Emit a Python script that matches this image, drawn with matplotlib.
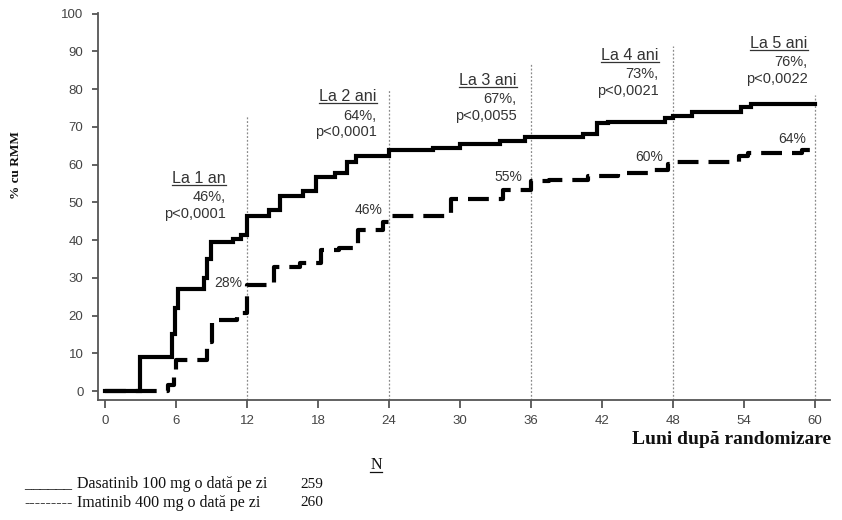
import matplotlib
matplotlib.use('Agg')
import matplotlib.pyplot as plt
from matplotlib.lines import Line2D

# ---------------- data ----------------
months_dasa = [0, 2.9, 5.6, 5.9, 6.1, 8.3, 8.6, 8.9, 10.8, 11.5, 12, 13.8, 14.8, 16.7,
               17.8, 19.4, 20.4, 21.2, 24, 27.7, 30, 33.4, 35.5, 40.4, 41.6, 42.5,
               47.3, 48, 49.6, 53.8, 54.6, 60]
pct_dasa = [0, 9, 15, 22, 27, 30, 35, 39.4, 40.2, 41.3, 46.5, 48, 51.8, 53,
            56.6, 57.7, 60.8, 62.2, 63.8, 64.5, 65.6, 66.2, 67.2, 68, 71, 71.4,
            72.5, 73, 74, 75.4, 76.2, 76.2]

months_ima = [0, 5.3, 5.8, 6.0, 8.6, 9.0, 11.1, 12, 14.3, 16.5, 18.2, 19.8, 21.4,
              23.5, 24, 27.5, 29.2, 33.6, 36, 37.5, 40.8, 43.4, 45.9, 47.6, 48,
              50, 53.6, 54.4, 58.9, 59.8]
pct_ima = [0, 1.5, 5, 8.2, 13, 18.8, 20.6, 28, 32.8, 33.9, 37.3, 38, 42.6,
           44.7, 46.3, 46.5, 50.8, 53.2, 55.8, 56, 56.9, 57.7, 58.5, 60.3, 60.6,
           60.8, 62.2, 63.2, 63.8, 63.8]

x_ticks = [0, 6, 12, 18, 24, 30, 36, 42, 48, 54, 60]
y_ticks = [0, 10, 20, 30, 40, 50, 60, 70, 80, 90, 100]

year_months = [12, 24, 36, 48, 60]
year_labels = ['La 1 an', 'La 2 ani', 'La 3 ani', 'La 4 ani', 'La 5 ani']
dasa_year_pct = ['46%,', '64%,', '67%,', '73%,', '76%,']
p_values = ['p<0,0001', 'p<0,0001', 'p<0,0055', 'p<0,0021', 'p<0,0022']
ima_year_pct = ['28%', '46%', '55%', '60%', '64%']

legend_names = ['Dasatinib 100 mg o dată pe zi', 'Imatinib 400 mg o dată pe zi']
legend_marks = ['______', '---------']
legend_n = ['259', '260']

# ---------------- layout ----------------
W, H = 842, 520
fig = plt.figure(figsize=(W / 100, H / 100), dpi=100)
ax = fig.add_axes([98 / W, 1 - 400 / H, (830 - 98) / W, (400 - 13) / H])
ax.set_xlim(-0.63, 61.3)
ax.set_ylim(-2.38, 100.2)

sans = ['Liberation Sans', 'DejaVu Sans']
serif = ['Liberation Serif', 'DejaVu Serif']
txt_col = '#333333'
spine_col = '#555555'

for s in ['top', 'right']:
    ax.spines[s].set_visible(False)
for s in ['left', 'bottom']:
    ax.spines[s].set_color(spine_col)
    ax.spines[s].set_linewidth(1.3)

ax.set_xticks(x_ticks)
ax.set_yticks(y_ticks)
ax.tick_params(axis='both', direction='out', colors=spine_col, width=1.3,
               labelcolor='#444444', labelsize=9.5)
ax.tick_params(axis='x', length=5.5, pad=5)
ax.tick_params(axis='y', length=4.5, pad=6)
for lab in ax.get_xticklabels() + ax.get_yticklabels():
    lab.set_family(sans)

# vertical dotted reference lines
vline_tops = [73, 80, 87, 91.5, 78.5]
ax.vlines(year_months, -2.38, vline_tops, colors='#8a8a8a', linestyles=(0, (1.5, 1.5)),
          linewidth=0.9, zorder=1)

# curves
ax.plot(months_dasa, pct_dasa, drawstyle='steps-post', color='black', lw=3.0,
        solid_joinstyle='miter', zorder=3)
ax.plot(months_ima, pct_ima, drawstyle='steps-post', color='black', lw=3.0,
        linestyle=(0, (5, 2.4)), dash_capstyle='butt', zorder=3)

# annotations per year
lab_right_x = [10.2, 22.95, 34.8, 46.8, 59.4]
lab_y = [56.3, 78.0, 82.3, 88.9, 92.1]
underline_texts = []
for xr, yl, lab, pc, pv in zip(lab_right_x, lab_y, year_labels, dasa_year_pct, p_values):
    t = ax.text(xr, yl, lab, ha='right', va='center', fontsize=11.6, color=txt_col,
                family=sans)
    underline_texts.append(t)
    ax.annotate(pc, (xr, yl), xytext=(0, -13.5), textcoords='offset points',
                ha='right', va='center', fontsize=10.5, color=txt_col, family=sans)
    ax.annotate(pv, (xr, yl), xytext=(0, -25.5), textcoords='offset points',
                ha='right', va='center', fontsize=10.5, color=txt_col, family=sans)

ima_lab_x = [10.4, 22.3, 34.1, 46.0, 58.1]
ima_lab_y = [28.6, 47.9, 56.6, 61.9, 66.7]
for xx, yy, s in zip(ima_lab_x, ima_lab_y, ima_year_pct):
    ax.text(xx, yy, s, ha='center', va='center', fontsize=10, color=txt_col,
            family=sans, zorder=4)

# axis labels
fig.text(16 / W, 1 - 165 / H, '% cu RMM', rotation=90, ha='center', va='center',
         fontsize=9.5, fontweight='bold', family=serif, color='#111111')
fig.text(831 / W, 1 - 439 / H, 'Luni după randomizare', ha='right', va='center',
         fontsize=14, fontweight='bold', family=serif, color='#111111')

# N table under chart
tN = fig.text(376 / W, 1 - 465 / H, 'N', ha='center', va='center', fontsize=11.5,
              family=serif, color='#111111')
underline_texts.append(tN)
for i, (mk, nm, n) in enumerate(zip(legend_marks, legend_names, legend_n)):
    yy = 1 - (484 + 19 * i) / H
    fig.text(24 / W, yy, mk, ha='left', va='center', fontsize=11.5,
             family=serif, color='#111111')
    fig.text(77 / W, yy, nm, ha='left', va='center', fontsize=11.5,
             family=serif, color='#111111')
    fig.text(300 / W, yy, n, ha='left', va='center', fontsize=11,
             family=serif, color='#111111')

# underline texts
fig.canvas.draw()
inv = fig.transFigure.inverted()
for t in underline_texts:
    bb = t.get_window_extent()
    (x0, y0), (x1, _) = inv.transform([[bb.x0, bb.y0 + 1], [bb.x1, bb.y0 + 1]])
    fig.add_artist(Line2D([x0, x1], [y0, y0], transform=fig.transFigure,
                          color=t.get_color(), lw=0.9))

fig.savefig('out.png', dpi=100)
